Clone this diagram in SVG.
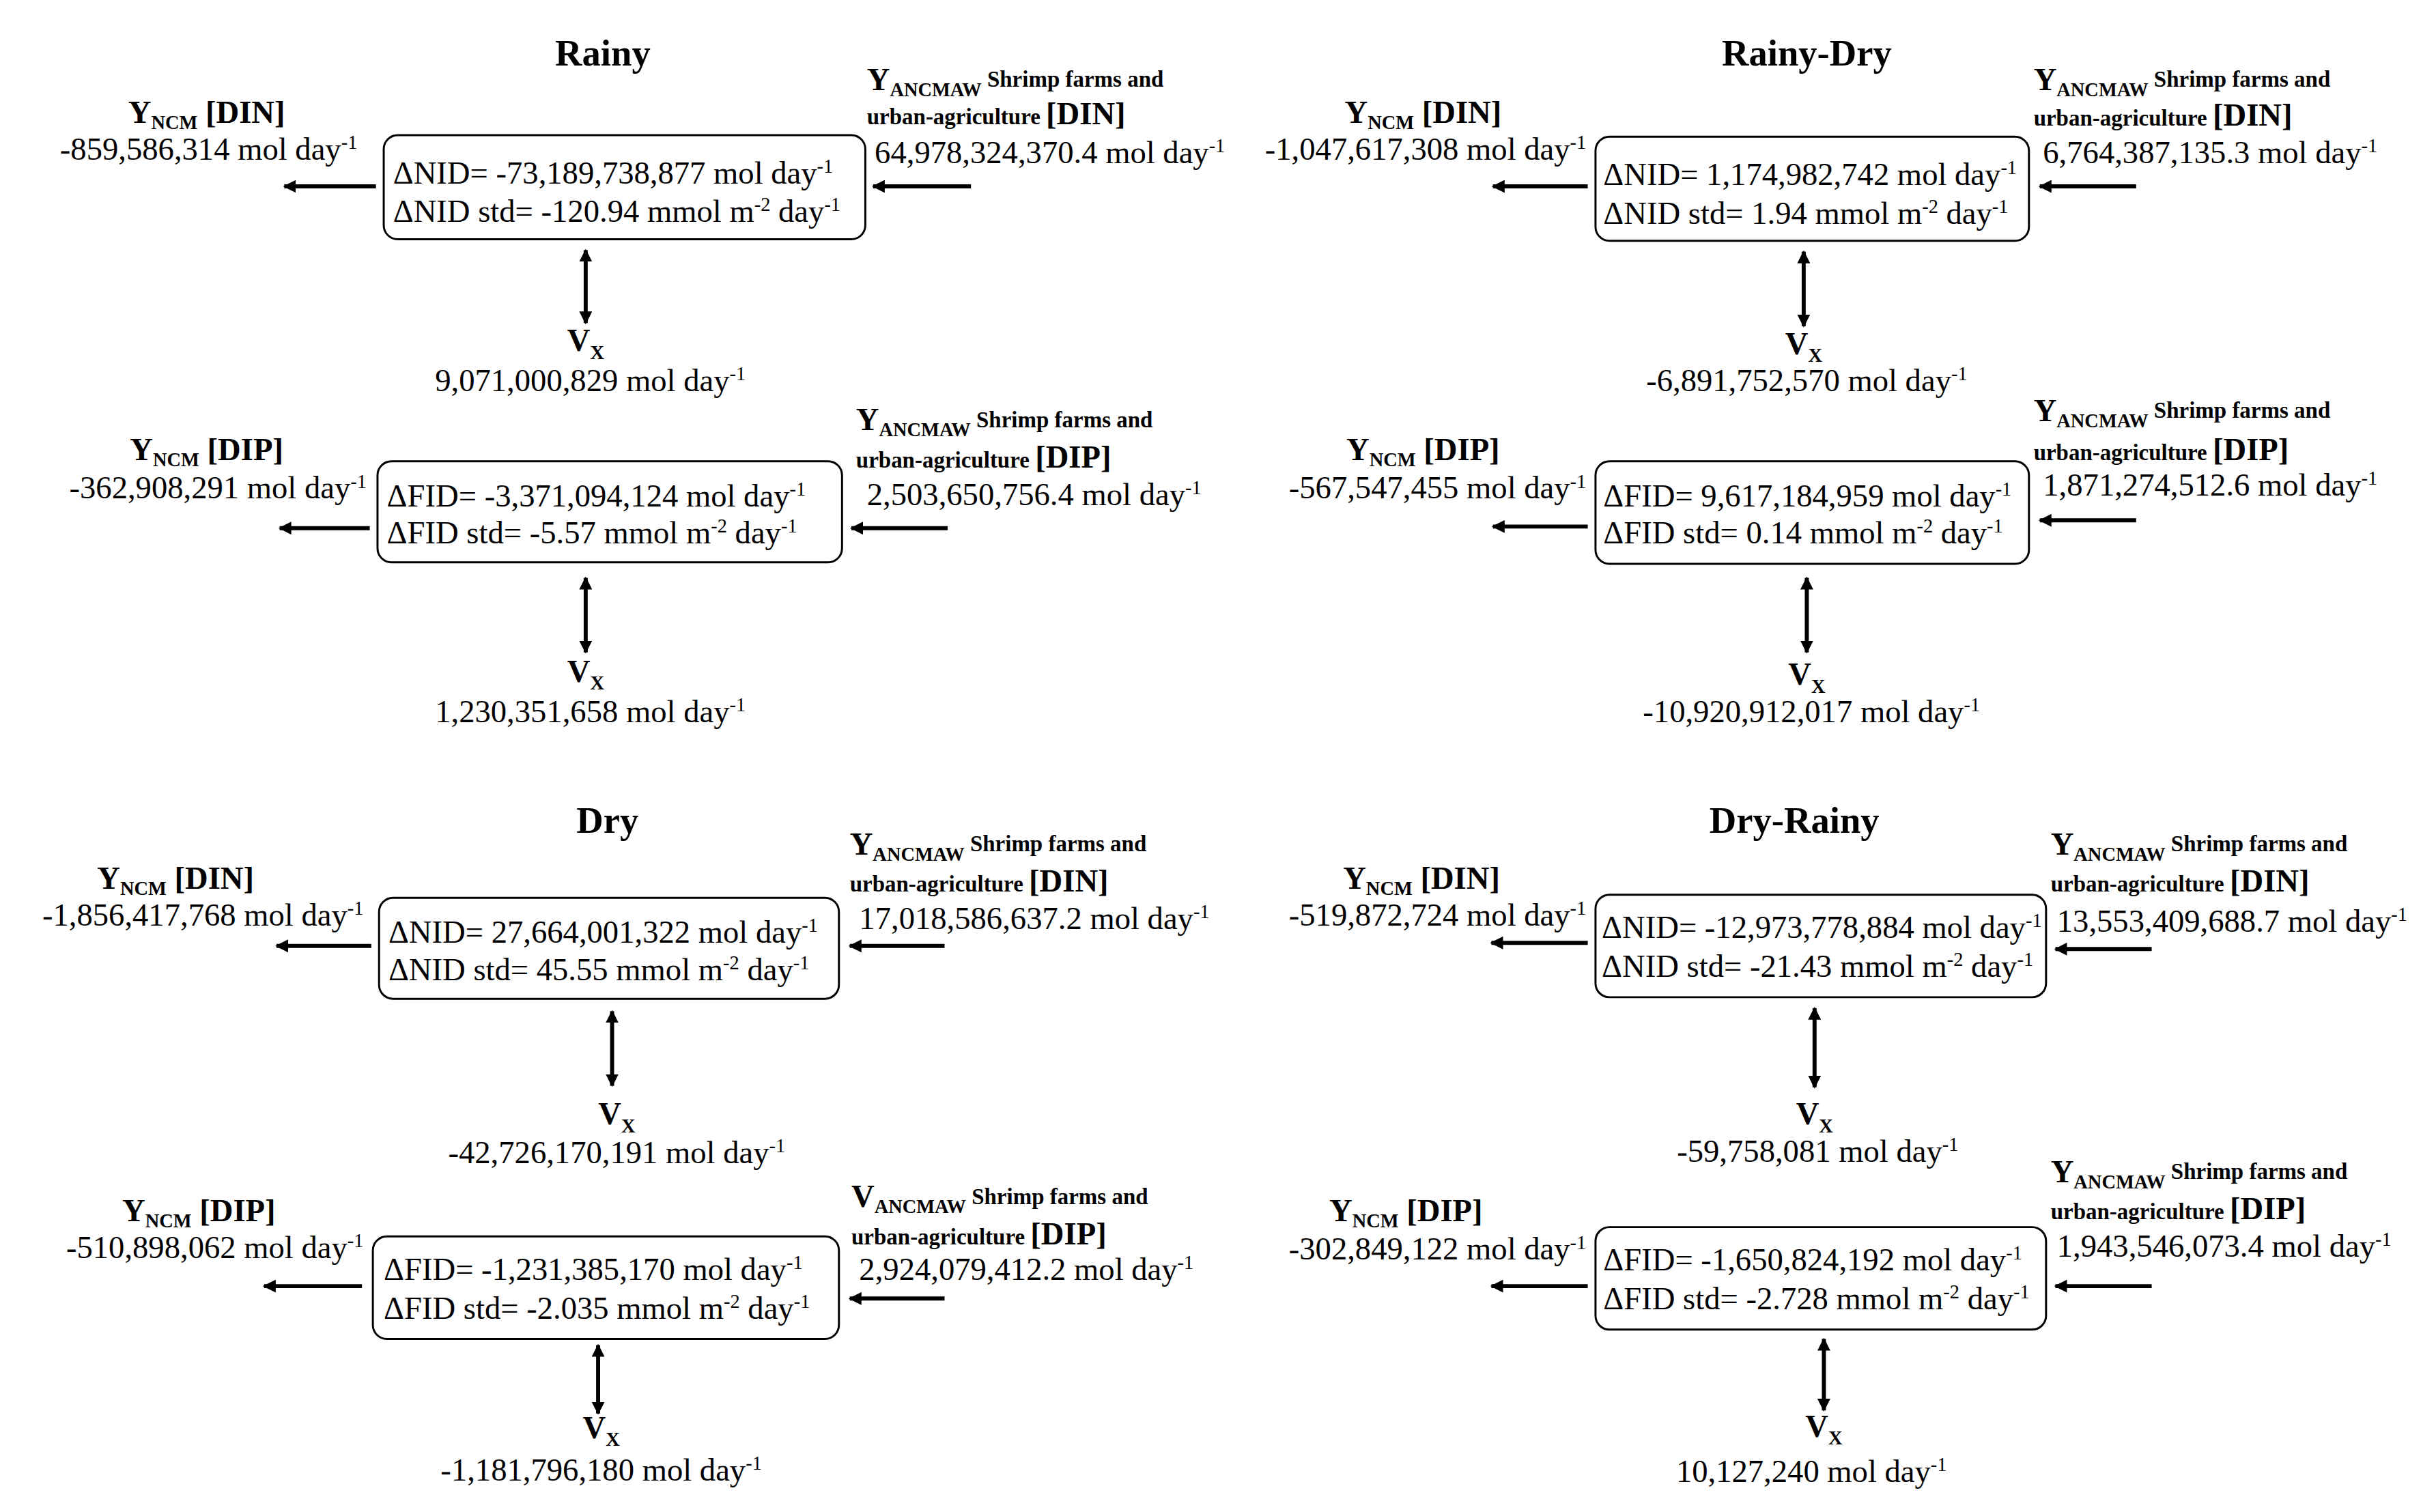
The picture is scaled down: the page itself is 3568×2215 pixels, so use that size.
<svg xmlns="http://www.w3.org/2000/svg" width="3568" height="2215" viewBox="0 0 3568 2215">
<defs>
<marker id="ah" viewBox="0 0 10 10" refX="9" refY="5" markerWidth="3.2" markerHeight="3.2" orient="auto-start-reverse"><path d="M0,0 L10,5 L0,10 z" fill="#000"/></marker>
<style>
text{font-family:"Liberation Serif","Times New Roman",serif;fill:#000;font-size:20.5px}
.t{font-weight:bold;font-size:24px;text-anchor:middle}
.b{font-weight:bold}
.s{font-weight:bold;font-size:14.5px}
.sub{font-size:12.5px}
.m{text-anchor:middle}
.e{text-anchor:end}
.box{fill:#fff;stroke:#000;stroke-width:1.3}
.ar{stroke:#000;stroke-width:2.6;fill:none;marker-end:url(#ah)}
.dar{stroke:#000;stroke-width:2.6;fill:none;marker-end:url(#ah);marker-start:url(#ah)}
</style>
</defs>
<rect width="3568" height="2215" fill="#fff"/>
<g transform="scale(2.2755)">
<g id="connectors">
<line class="ar" x1="242" y1="120" x2="183" y2="120"/><line class="ar" x1="625" y1="120" x2="562" y2="120"/><line class="dar" x1="377" y1="161" x2="377" y2="208"/>
<line class="ar" x1="238" y1="340" x2="180" y2="340"/><line class="ar" x1="610" y1="340" x2="548" y2="340"/><line class="dar" x1="377" y1="372" x2="377" y2="420"/>
<line class="ar" x1="1022" y1="120" x2="961" y2="120"/><line class="ar" x1="1375" y1="120" x2="1313" y2="120"/><line class="dar" x1="1161" y1="162" x2="1161" y2="210"/>
<line class="ar" x1="1022" y1="339" x2="961" y2="339"/><line class="ar" x1="1375" y1="335" x2="1313" y2="335"/><line class="dar" x1="1163" y1="372" x2="1163" y2="420"/>
<line class="ar" x1="239" y1="609" x2="178" y2="609"/><line class="ar" x1="608" y1="609" x2="547" y2="609"/><line class="dar" x1="394" y1="651" x2="394" y2="699"/>
<line class="ar" x1="233" y1="828" x2="170" y2="828"/><line class="ar" x1="608" y1="836" x2="547" y2="836"/><line class="dar" x1="385" y1="866" x2="385" y2="910"/>
<line class="ar" x1="1022" y1="607" x2="960" y2="607"/><line class="ar" x1="1385" y1="611" x2="1323" y2="611"/><line class="dar" x1="1168" y1="649" x2="1168" y2="700"/>
<line class="ar" x1="1022" y1="828" x2="960" y2="828"/><line class="ar" x1="1385" y1="828" x2="1323" y2="828"/><line class="dar" x1="1174" y1="862" x2="1174" y2="908"/>
</g>

<g id="rainy">
<text class="t" x="388" y="42">Rainy</text>
<g id="rainy-nid"><rect class="box" x="247" y="87" width="310" height="67" rx="9"/>
<text x="253" y="118">ΔNID= -73,189,738,877 mol day<tspan class="sub" dy="-7">-1</tspan></text>
<text x="253" y="143">ΔNID std= -120.94 mmol m<tspan class="sub" dy="-7">-2</tspan><tspan dy="7"> day</tspan><tspan class="sub" dy="-7">-1</tspan></text></g>
<g id="rainy-ydin"><text class="b m" x="133" y="79">Y<tspan class="sub" dy="4">NCM</tspan><tspan dy="-4"> [DIN]</tspan></text>
<text class="e" x="230" y="103">-859,586,314 mol day<tspan class="sub" dy="-7">-1</tspan></text></g>
<g id="rainy-adin"><text class="b" x="558" y="58">Y<tspan class="sub" dy="4">ANCMAW</tspan><tspan class="s" dy="-6"> Shrimp farms and</tspan></text>
<text class="s" x="558" y="80">urban-agriculture <tspan class="b" style="font-size:20.5px">[DIN]</tspan></text>
<text x="563" y="105">64,978,324,370.4 mol day<tspan class="sub" dy="-7">-1</tspan></text></g>
<g id="rainy-vx1"><text class="b m" x="377" y="226">V<tspan class="sub" dy="5">X</tspan></text>
<text class="m" x="380" y="252">9,071,000,829 mol day<tspan class="sub" dy="-7">-1</tspan></text></g>
<g id="rainy-fid"><rect class="box" x="243" y="297" width="299" height="65" rx="9"/>
<text x="249" y="326">ΔFID=  -3,371,094,124 mol day<tspan class="sub" dy="-7">-1</tspan></text>
<text x="249" y="350">ΔFID std= -5.57 mmol m<tspan class="sub" dy="-7">-2</tspan><tspan dy="7"> day</tspan><tspan class="sub" dy="-7">-1</tspan></text></g>
<g id="rainy-ydip"><text class="b m" x="133" y="296">Y<tspan class="sub" dy="4">NCM</tspan><tspan dy="-4"> [DIP]</tspan></text>
<text class="e" x="236" y="321">-362,908,291 mol day<tspan class="sub" dy="-7">-1</tspan></text></g>
<g id="rainy-adip"><text class="b" x="551" y="277">Y<tspan class="sub" dy="4">ANCMAW</tspan><tspan class="s" dy="-6"> Shrimp farms and</tspan></text>
<text class="s" x="551" y="301">urban-agriculture  <tspan class="b" style="font-size:20.5px">[DIP]</tspan></text>
<text x="558" y="325">2,503,650,756.4 mol day<tspan class="sub" dy="-7">-1</tspan></text></g>
<g id="rainy-vx2"><text class="b m" x="377" y="439">V<tspan class="sub" dy="5">X</tspan></text>
<text class="m" x="380" y="465">1,230,351,658 mol day<tspan class="sub" dy="-7">-1</tspan></text></g>
</g>

<g id="rainydry">
<text class="t" x="1163" y="42">Rainy-Dry</text>
<g id="rd-nid"><rect class="box" x="1027" y="88" width="279" height="67" rx="9"/>
<text x="1032" y="119">ΔNID= 1,174,982,742 mol day<tspan class="sub" dy="-7">-1</tspan></text>
<text x="1032" y="144">ΔNID std= 1.94 mmol m<tspan class="sub" dy="-7">-2</tspan><tspan dy="7"> day</tspan><tspan class="sub" dy="-7">-1</tspan></text></g>
<g id="rd-ydin"><text class="b m" x="916" y="79">Y<tspan class="sub" dy="4">NCM</tspan><tspan dy="-4"> [DIN]</tspan></text>
<text class="e" x="1021" y="103">-1,047,617,308 mol day<tspan class="sub" dy="-7">-1</tspan></text></g>
<g id="rd-adin"><text class="b" x="1309" y="58">Y<tspan class="sub" dy="4">ANCMAW</tspan><tspan class="s" dy="-6"> Shrimp farms and</tspan></text>
<text class="s" x="1309" y="81">urban-agriculture <tspan class="b" style="font-size:20.5px">[DIN]</tspan></text>
<text x="1315" y="105">6,764,387,135.3 mol day<tspan class="sub" dy="-7">-1</tspan></text></g>
<g id="rd-vx1"><text class="b m" x="1161" y="228">V<tspan class="sub" dy="5">X</tspan></text>
<text class="m" x="1163" y="252">-6,891,752,570 mol day<tspan class="sub" dy="-7">-1</tspan></text></g>
<g id="rd-fid"><rect class="box" x="1027" y="297" width="279" height="66" rx="9"/>
<text x="1032" y="326">ΔFID=  9,617,184,959 mol day<tspan class="sub" dy="-7">-1</tspan></text>
<text x="1032" y="350">ΔFID std= 0.14 mmol m<tspan class="sub" dy="-7">-2</tspan><tspan dy="7"> day</tspan><tspan class="sub" dy="-7">-1</tspan></text></g>
<g id="rd-ydip"><text class="b m" x="916" y="296">Y<tspan class="sub" dy="4">NCM</tspan><tspan dy="-4"> [DIP]</tspan></text>
<text class="e" x="1021" y="321">-567,547,455 mol day<tspan class="sub" dy="-7">-1</tspan></text></g>
<g id="rd-adip"><text class="b" x="1309" y="271">Y<tspan class="sub" dy="4">ANCMAW</tspan><tspan class="s" dy="-6"> Shrimp farms and</tspan></text>
<text class="s" x="1309" y="296">urban-agriculture <tspan class="b" style="font-size:20.5px">[DIP]</tspan></text>
<text x="1315" y="319">1,871,274,512.6 mol day<tspan class="sub" dy="-7">-1</tspan></text></g>
<g id="rd-vx2"><text class="b m" x="1163" y="441">V<tspan class="sub" dy="5">X</tspan></text>
<text class="m" x="1166" y="465">-10,920,912,017 mol day<tspan class="sub" dy="-7">-1</tspan></text></g>
</g>

<g id="dry">
<text class="t" x="391" y="536">Dry</text>
<g id="dry-nid"><rect class="box" x="244" y="578" width="296" height="65" rx="9"/>
<text x="250" y="607">ΔNID= 27,664,001,322 mol day<tspan class="sub" dy="-7">-1</tspan></text>
<text x="250" y="631">ΔNID std= 45.55 mmol m<tspan class="sub" dy="-7">-2</tspan><tspan dy="7"> day</tspan><tspan class="sub" dy="-7">-1</tspan></text></g>
<g id="dry-ydin"><text class="b m" x="113" y="572">Y<tspan class="sub" dy="4">NCM</tspan><tspan dy="-4"> [DIN]</tspan></text>
<text class="e" x="234" y="596">-1,856,417,768 mol day<tspan class="sub" dy="-7">-1</tspan></text></g>
<g id="dry-adin"><text class="b" x="547" y="550">Y<tspan class="sub" dy="4">ANCMAW</tspan><tspan class="s" dy="-6"> Shrimp farms and</tspan></text>
<text class="s" x="547" y="574">urban-agriculture <tspan class="b" style="font-size:20.5px">[DIN]</tspan></text>
<text x="553" y="598">17,018,586,637.2 mol day<tspan class="sub" dy="-7">-1</tspan></text></g>
<g id="dry-vx1"><text class="b m" x="397" y="724">V<tspan class="sub" dy="5">X</tspan></text>
<text class="m" x="397" y="749">-42,726,170,191 mol day<tspan class="sub" dy="-7">-1</tspan></text></g>
<g id="dry-fid"><rect class="box" x="240" y="796" width="300" height="66" rx="9"/>
<text x="247" y="824">ΔFID=  -1,231,385,170 mol day<tspan class="sub" dy="-7">-1</tspan></text>
<text x="247" y="849">ΔFID std= -2.035 mmol m<tspan class="sub" dy="-7">-2</tspan><tspan dy="7"> day</tspan><tspan class="sub" dy="-7">-1</tspan></text></g>
<g id="dry-ydip"><text class="b m" x="128" y="786">Y<tspan class="sub" dy="4">NCM</tspan><tspan dy="-4"> [DIP]</tspan></text>
<text class="e" x="234" y="810">-510,898,062 mol day<tspan class="sub" dy="-7">-1</tspan></text></g>
<g id="dry-adip"><text class="b" x="548" y="777">V<tspan class="sub" dy="4">ANCMAW</tspan><tspan class="s" dy="-6"> Shrimp farms and</tspan></text>
<text class="s" x="548" y="801">urban-agriculture <tspan class="b" style="font-size:20.5px">[DIP]</tspan></text>
<text x="553" y="824">2,924,079,412.2 mol day<tspan class="sub" dy="-7">-1</tspan></text></g>
<g id="dry-vx2"><text class="b m" x="387" y="926">V<tspan class="sub" dy="5">X</tspan></text>
<text class="m" x="387" y="953">-1,181,796,180 mol day<tspan class="sub" dy="-7">-1</tspan></text></g>
</g>

<g id="dryrainy">
<text class="t" x="1155" y="536">Dry-Rainy</text>
<g id="dr-nid"><rect class="box" x="1027" y="576" width="290" height="66" rx="9"/>
<text x="1031" y="604">ΔNID= -12,973,778,884 mol day<tspan class="sub" dy="-7">-1</tspan></text>
<text x="1031" y="629">ΔNID std= -21.43 mmol m<tspan class="sub" dy="-7">-2</tspan><tspan dy="7"> day</tspan><tspan class="sub" dy="-7">-1</tspan></text></g>
<g id="dr-ydin"><text class="b m" x="915" y="572">Y<tspan class="sub" dy="4">NCM</tspan><tspan dy="-4"> [DIN]</tspan></text>
<text class="e" x="1021" y="596">-519,872,724 mol day<tspan class="sub" dy="-7">-1</tspan></text></g>
<g id="dr-adin"><text class="b" x="1320" y="550">Y<tspan class="sub" dy="4">ANCMAW</tspan><tspan class="s" dy="-6"> Shrimp farms and</tspan></text>
<text class="s" x="1320" y="574">urban-agriculture  <tspan class="b" style="font-size:20.5px">[DIN]</tspan></text>
<text x="1324" y="600">13,553,409,688.7 mol day<tspan class="sub" dy="-7">-1</tspan></text></g>
<g id="dr-vx1"><text class="b m" x="1168" y="724">V<tspan class="sub" dy="5">X</tspan></text>
<text class="m" x="1170" y="748">-59,758,081 mol day<tspan class="sub" dy="-7">-1</tspan></text></g>
<g id="dr-fid"><rect class="box" x="1027" y="790" width="290" height="66" rx="9"/>
<text x="1032" y="818">ΔFID=  -1,650,824,192 mol day<tspan class="sub" dy="-7">-1</tspan></text>
<text x="1032" y="843">ΔFID std= -2.728 mmol m<tspan class="sub" dy="-7">-2</tspan><tspan dy="7"> day</tspan><tspan class="sub" dy="-7">-1</tspan></text></g>
<g id="dr-ydip"><text class="b m" x="905" y="786">Y<tspan class="sub" dy="4">NCM</tspan><tspan dy="-4"> [DIP]</tspan></text>
<text class="e" x="1021" y="811">-302,849,122 mol day<tspan class="sub" dy="-7">-1</tspan></text></g>
<g id="dr-adip"><text class="b" x="1320" y="761">Y<tspan class="sub" dy="4">ANCMAW</tspan><tspan class="s" dy="-6"> Shrimp farms and</tspan></text>
<text class="s" x="1320" y="785">urban-agriculture <tspan class="b" style="font-size:20.5px">[DIP]</tspan></text>
<text x="1324" y="809">1,943,546,073.4 mol day<tspan class="sub" dy="-7">-1</tspan></text></g>
<g id="dr-vx2"><text class="b m" x="1174" y="925">V<tspan class="sub" dy="5">X</tspan></text>
<text class="m" x="1166" y="954">10,127,240 mol day<tspan class="sub" dy="-7">-1</tspan></text></g>
</g>
</g>
</svg>
